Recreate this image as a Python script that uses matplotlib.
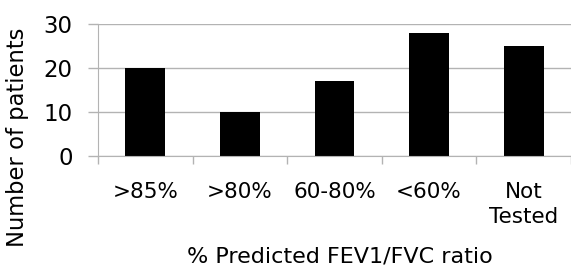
import matplotlib
matplotlib.use("Agg")
import matplotlib.pyplot as plt
import numpy as np

categories = [">85%", ">80%", "60-80%", "<60%", "Not\nTested"]
values = [20, 10, 17, 28, 25]
yticks = [0, 10, 20, 30]

plt.rcParams['font.family'] = ['DejaVu Sans']
GRID = '#b3b3b3'

fig = plt.figure(figsize=(5.71, 2.68), dpi=100)
L, B, T = 98, 156, 24
W = 571 - L
H = B - T
ax = fig.add_axes([L/571, 1-B/268, W/571, H/268])

x = np.arange(len(categories))
ax.bar(x, values, width=0.42, color='black', zorder=3)

ax.set_xlim(-0.5, len(categories)-0.5)
ax.set_ylim(0, 30)
ax.set_yticks(yticks)
ax.yaxis.grid(True, color=GRID, linewidth=1, zorder=0)
ax.set_xticks(x)
ax.set_xticklabels(categories, fontsize=15.5, linespacing=1.3)
ax.set_xticks(np.arange(len(categories)+1)-0.5, minor=True)
ax.tick_params(axis='x', which='major', length=0, pad=19)
ax.tick_params(axis='x', which='minor', length=5.4, color=GRID, width=1)
ax.tick_params(axis='y', length=7.2, color=GRID, width=1, labelsize=16.5, pad=11)
for s in ['top', 'right']:
    ax.spines[s].set_visible(False)
ax.spines['bottom'].set_color(GRID)
ax.spines['left'].set_color(GRID)
ax.spines['bottom'].set_zorder(4)

ax.set_xlabel("% Predicted FEV1/FVC ratio", fontsize=16)
ax.xaxis.set_label_coords((340-L)/W, (B-263)/H, transform=ax.transAxes)
ax.xaxis.label.set_va('baseline')
ax.set_ylabel("Number of patients", fontsize=16.3)
ax.yaxis.set_label_coords((18-L)/W, (B-137)/H, transform=ax.transAxes)
ax.yaxis.label.set_va('center')
ax.yaxis.label.set_ha('center')

fig.savefig("out.png", dpi=100)
